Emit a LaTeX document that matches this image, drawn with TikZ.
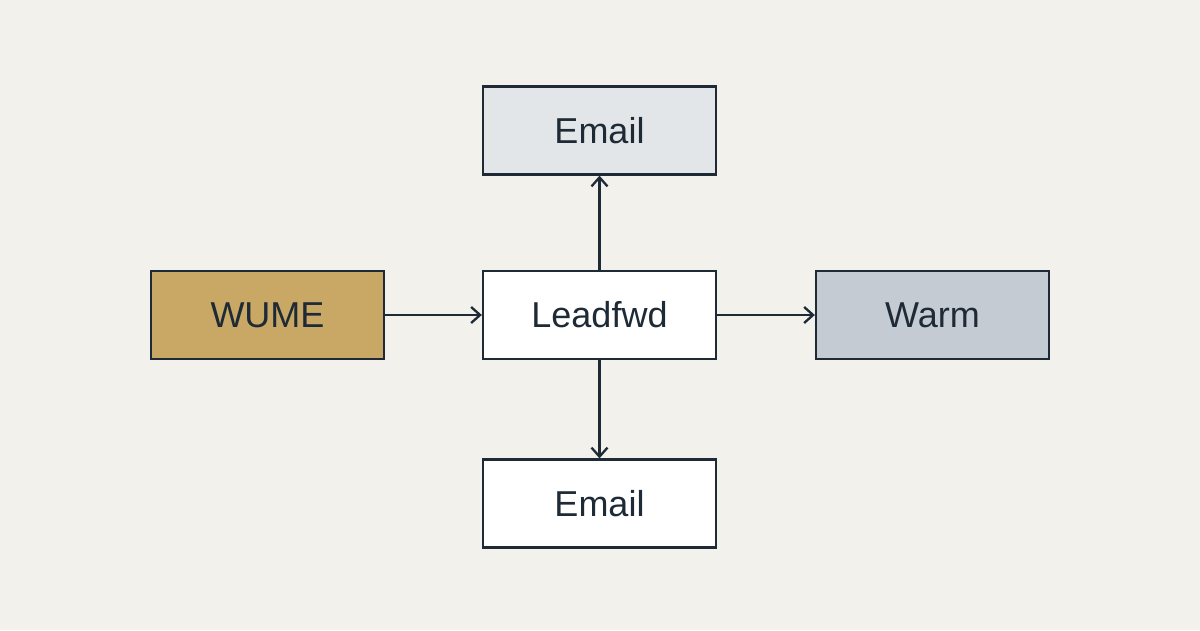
\documentclass[tikz,border=0pt]{standalone}
\usepackage{fontspec}
\setmainfont{Liberation Sans}
\usetikzlibrary{arrows.meta}
\definecolor{bg}{HTML}{F2F1EC}
\definecolor{ink}{HTML}{1E2A36}
\definecolor{gold}{HTML}{C9A764}
\definecolor{slate}{HTML}{C5CBD3}
\definecolor{pale}{HTML}{E3E6E8}
\begin{document}
\begin{tikzpicture}[x=1pt,y=-1pt,
  box/.style={draw=ink,line width=2.3pt,minimum width=233pt,minimum height=88pt,inner sep=0pt,font=\fontsize{36}{42}\selectfont,text=ink},
  arr/.style={draw=ink,line width=2.3pt,-{Straight Barb[length=9pt,width=16pt,line width=2.3pt]}}]
\fill[bg] (0,0) rectangle (1200,630);
\useasboundingbox (0,0) rectangle (1200,630);
\node[box,fill=pale] (t) at (599.5,130.5) {Email};
\node[box,fill=gold] (w) at (267.5,315) {WUME};
\node[box,fill=white] (l) at (599.5,315) {Leadfwd};
\node[box,fill=slate] (r) at (932.5,315) {Warm};
\node[box,fill=white] (b) at (599.5,503.5) {Email};
\draw[arr] (w) -- (l);
\draw[arr] (l) -- (r);
\draw[arr] (l) -- (t);
\draw[arr] (l) -- (b);
\end{tikzpicture}
\end{document}
